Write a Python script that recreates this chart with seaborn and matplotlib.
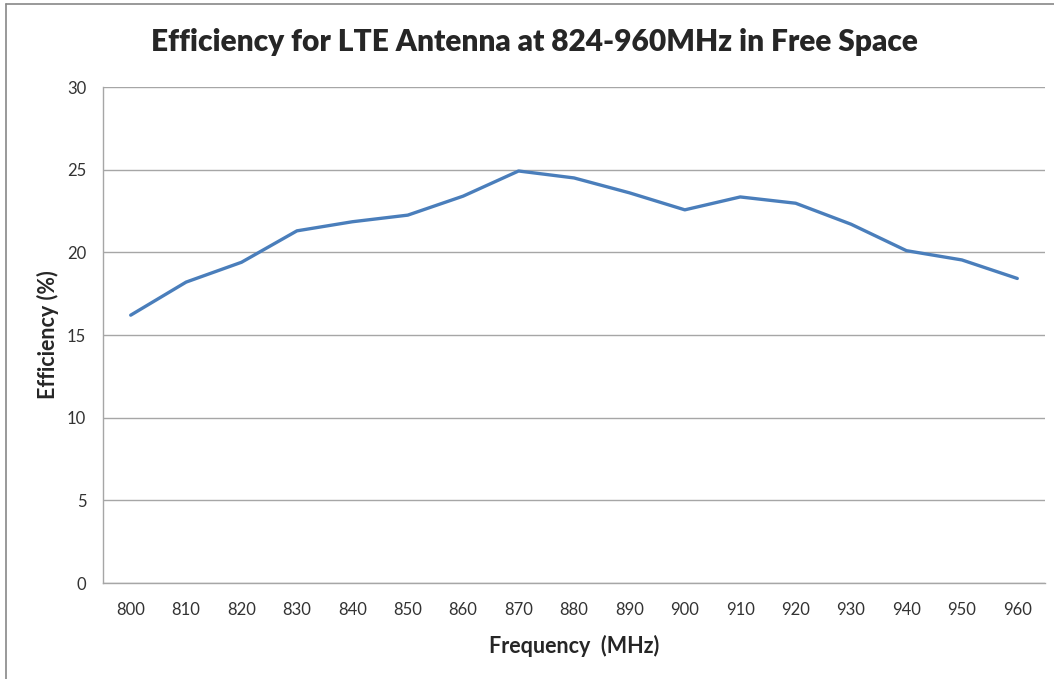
import matplotlib
matplotlib.use("Agg")
import matplotlib.pyplot as plt
import seaborn as sns
import pandas as pd
from matplotlib.lines import Line2D

# data
frequency_mhz = [800, 810, 820, 830, 840, 850, 860, 870, 880,
                 890, 900, 910, 920, 930, 940, 950, 960]
efficiency_pct = [16.2, 18.2, 19.4, 21.3, 21.85, 22.25, 23.4, 24.92, 24.5,
                  23.6, 22.57, 23.35, 22.97, 21.7, 20.1, 19.54, 18.42]
y_ticks = [0, 5, 10, 15, 20, 25, 30]

df = pd.DataFrame({"freq": frequency_mhz, "eff": efficiency_pct})

sns.set_style("white")
plt.rcParams['font.family'] = ['Lato', 'DejaVu Sans']

fig = plt.figure(figsize=(10.54, 6.79), dpi=100)
ax = fig.add_axes([103 / 1054, 1 - 583 / 679, (1045 - 103) / 1054, (583 - 87) / 679])

sns.lineplot(data=df, x="freq", y="eff", ax=ax, color="#4A7EBB", linewidth=2.4)

ax.set_xlim(795, 965)
ax.set_ylim(0, 30)
ax.set_yticks(y_ticks)
ax.set_xticks(frequency_mhz)
ax.grid(axis="y", color="#A6A6A6", linewidth=1.0)
ax.set_axisbelow(True)

for side in ["top", "right"]:
    ax.spines[side].set_visible(False)
for side in ["left", "bottom"]:
    ax.spines[side].set_color("#A6A6A6")
    ax.spines[side].set_linewidth(1.0)

ax.tick_params(axis="y", length=6, width=1, color="#A6A6A6", labelsize=12, pad=6, labelcolor="#333333")
ax.tick_params(axis="x", length=0, labelsize=12, pad=14, labelcolor="#333333")

ax.set_xlabel("Frequency  (MHz)", fontsize=15.5, fontweight="bold", labelpad=12)
ax.set_ylabel("Efficiency (%)", fontsize=15.5, fontweight="bold", labelpad=6)
fig.text(534 / 1054, 1 - 42 / 679, "Efficiency for LTE Antenna at 824-960MHz in Free Space",
         ha="center", va="center", fontsize=21.5, fontweight="heavy")

# chart frame (left and top edges visible in the reference)
fig.add_artist(Line2D([6 / 1054, 6 / 1054], [0, 1 - 4 / 679], transform=fig.transFigure,
                      color="#888888", linewidth=1.2))
fig.add_artist(Line2D([6 / 1054, 1], [1 - 4 / 679, 1 - 4 / 679], transform=fig.transFigure,
                      color="#888888", linewidth=1.2))

fig.savefig("out.png", dpi=100)
